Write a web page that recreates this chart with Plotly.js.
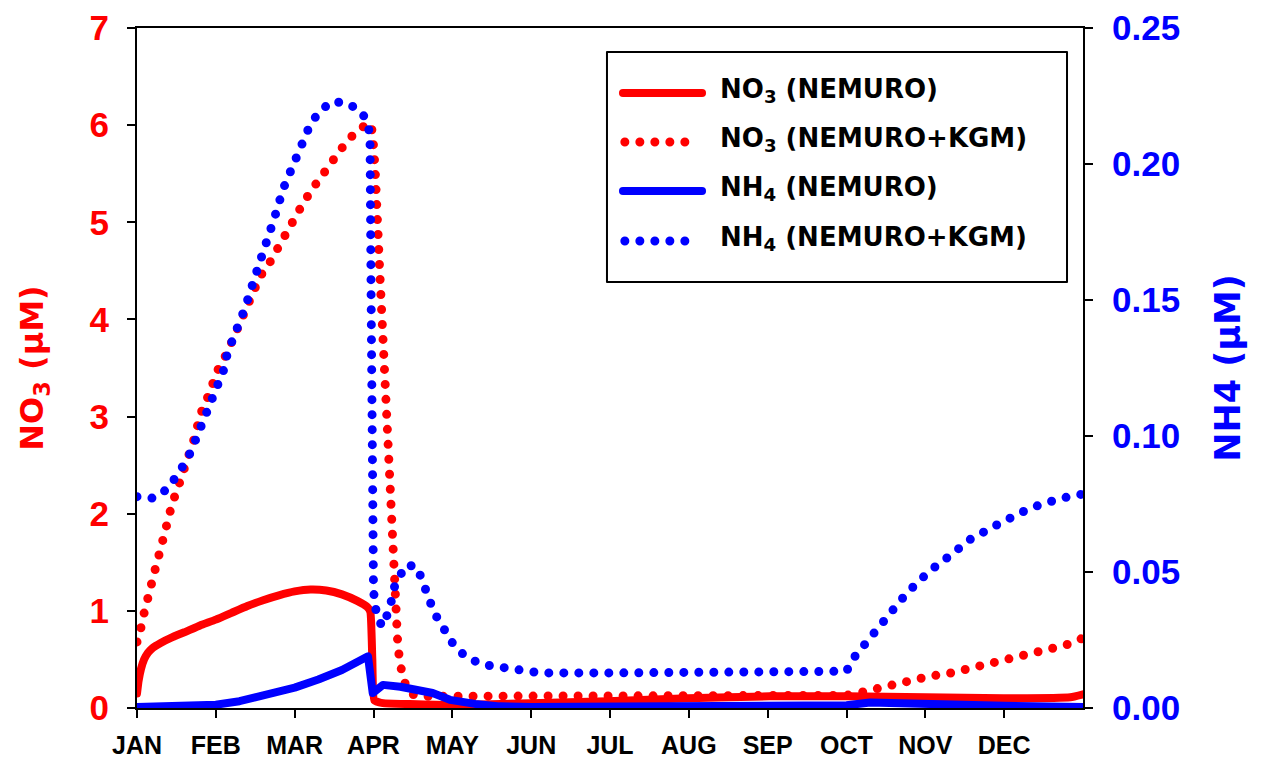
<!DOCTYPE html>
<html>
<head>
<meta charset="utf-8">
<script src="https://cdn.plot.ly/plotly-3.0.1.min.js"></script>
<style>
html, body { margin: 0; padding: 0; background: #fff; }
#chart { width: 1265px; height: 759px; }
.scatterlayer .js-line, .shapelayer path { stroke-linecap: round; stroke-linejoin: round; }
</style>
</head>
<body>
<div id="chart"></div>
<script>
// Month tick labels (x is measured in months since 1 Jan)
var monthLabels = ['JAN','FEB','MAR','APR','MAY','JUN','JUL','AUG','SEP','OCT','NOV','DEC'];
var monthTicks = [0,1,2,3,4,5,6,7,8,9,10,11];

// NO3 (NEMURO) - left axis, uM
var no3NemMonth = [0, 0.02, 0.05, 0.09, 0.14, 0.20, 0.30, 0.45, 0.60, 0.80, 1.0, 1.2, 1.4, 1.6, 1.8, 2.0, 2.2, 2.4, 2.6, 2.8, 2.92, 2.96, 2.985, 3.01, 3.12, 3.46, 3.98, 4.99, 5.97, 6.99, 8.02, 9.0, 10.0, 10.99, 11.84, 12.0];
var no3NemVal   = [0.15, 0.28, 0.40, 0.50, 0.57, 0.62, 0.67, 0.73, 0.78, 0.85, 0.91, 0.98, 1.05, 1.11, 1.16, 1.20, 1.22, 1.21, 1.17, 1.10, 1.04, 0.99, 0.5, 0.08, 0.05, 0.04, 0.03, 0.05, 0.07, 0.10, 0.12, 0.12, 0.11, 0.10, 0.11, 0.14];

// NO3 (NEMURO+KGM) - left axis, uM
var no3KgmMonth = [0, 0.03, 0.06, 0.10, 0.156, 0.20, 0.25, 0.30, 0.346, 0.397, 0.448, 0.516, 0.567, 0.638, 0.707, 0.757, 0.808, 0.892, 0.96, 1.031, 1.138, 1.37, 1.56, 1.68, 1.78, 1.90, 2.00, 2.11, 2.23, 2.36, 2.50, 2.64, 2.81, 2.965, 2.99, 3.02, 3.08, 3.16, 3.23, 3.27, 3.31, 3.37, 3.46, 3.59, 3.99, 4.37, 5.0, 6.0, 7.0, 8.0, 9.0, 9.13, 9.30, 9.50, 9.69, 9.89, 10.07, 10.27, 10.46, 10.65, 10.84, 11.03, 11.22, 11.40, 11.60, 11.79, 12.0];
var no3KgmVal   = [0.68, 0.72, 0.88, 1.03, 1.18, 1.34, 1.49, 1.64, 1.80, 1.95, 2.11, 2.26, 2.42, 2.56, 2.72, 2.88, 3.03, 3.19, 3.34, 3.49, 3.65, 4.11, 4.44, 4.58, 4.73, 4.89, 5.04, 5.20, 5.35, 5.50, 5.65, 5.81, 5.96, 6.02, 5.9, 5.56, 4.48, 3.1, 1.68, 1.08, 0.62, 0.31, 0.15, 0.12, 0.12, 0.13, 0.13, 0.13, 0.12, 0.12, 0.13, 0.15, 0.185, 0.22, 0.25, 0.29, 0.33, 0.35, 0.39, 0.425, 0.45, 0.50, 0.535, 0.58, 0.615, 0.65, 0.72];

// NH4 (NEMURO) - right axis, uM
var nh4NemMonth = [0, 0.5, 1.0, 1.3, 1.6, 2.0, 2.3, 2.6, 2.93, 2.99, 3.12, 3.34, 3.75, 3.97, 4.29, 4.60, 5.0, 6.0, 7.0, 8.0, 9.0, 9.3, 10.0, 10.5, 11.0, 12.0];
var nh4NemVal   = [0.0004, 0.0006, 0.0012, 0.0025, 0.0045, 0.0075, 0.0105, 0.014, 0.019, 0.0055, 0.0085, 0.0078, 0.0055, 0.003, 0.0015, 0.0006, 0.0004, 0.0004, 0.0007, 0.0008, 0.001, 0.002, 0.0018, 0.0012, 0.0008, 0.0004];

// NH4 (NEMURO+KGM) - right axis, uM
var nh4KgmMonth = [0, 0.216, 0.397, 0.537, 0.638, 0.723, 0.80, 0.884, 0.948, 1.031, 1.104, 1.146, 1.23, 1.285, 1.37, 1.497, 1.624, 1.738, 1.856, 2.004, 2.173, 2.287, 2.461, 2.66, 2.85, 2.934, 2.956, 2.97, 2.985, 3.0, 3.04, 3.11, 3.20, 3.27, 3.41, 3.55, 3.63, 3.77, 4.00, 4.16, 4.38, 4.76, 5.11, 6.0, 7.0, 8.0, 9.0, 9.08, 9.22, 9.37, 9.53, 9.70, 9.88, 10.07, 10.31, 10.57, 10.95, 11.33, 11.71, 12.0];
var nh4KgmVal   = [0.0777, 0.0771, 0.0808, 0.0863, 0.0914, 0.0971, 0.1025, 0.108, 0.1136, 0.119, 0.1246, 0.1304, 0.136, 0.1414, 0.147, 0.1586, 0.169, 0.1797, 0.191, 0.2018, 0.2128, 0.2184, 0.2229, 0.2225, 0.2192, 0.2143, 0.2088, 0.15, 0.07, 0.043, 0.034, 0.030, 0.036, 0.045, 0.0526, 0.052, 0.046, 0.035, 0.024, 0.019, 0.016, 0.014, 0.0129, 0.0129, 0.0129, 0.0129, 0.0135, 0.018, 0.023, 0.029, 0.035, 0.040, 0.0456, 0.0507, 0.056, 0.062, 0.068, 0.0735, 0.077, 0.0787];

var seriesNames = ['NO<sub>3</sub> (NEMURO)', 'NO<sub>3</sub> (NEMURO+KGM)', 'NH<sub>4</sub> (NEMURO)', 'NH<sub>4</sub> (NEMURO+KGM)'];

var RED = '#ff0000', BLUE = '#0000ff';
var DOTS = '0px,15px';
var FONT = '"Liberation Sans", Arial, sans-serif';
var WIDE = '"DejaVu Sans", sans-serif';

var traces = [
  {x: no3NemMonth, y: no3NemVal, name: seriesNames[0], type: 'scatter', mode: 'lines', yaxis: 'y',
   line: {color: RED, width: 8, shape: 'spline', smoothing: 0.4}},
  {x: no3KgmMonth, y: no3KgmVal, name: seriesNames[1], type: 'scatter', mode: 'lines', yaxis: 'y',
   line: {color: RED, width: 9, dash: DOTS}},
  {x: nh4NemMonth, y: nh4NemVal, name: seriesNames[2], type: 'scatter', mode: 'lines', yaxis: 'y2',
   line: {color: BLUE, width: 8}},
  {x: nh4KgmMonth, y: nh4KgmVal, name: seriesNames[3], type: 'scatter', mode: 'lines', yaxis: 'y2',
   line: {color: BLUE, width: 9, dash: DOTS}}
];

// manual legend (box, line samples, labels) in paper coordinates
var legX0 = 0.4968, legX1 = 0.9831, legY0 = 0.6265, legY1 = 0.9647;
var rowY = [0.9044, 0.8324, 0.7603, 0.6868];
var sampleX0 = 0.5137, sampleX1 = 0.5973, dotX1 = 0.5830;
var textX = 0.6142;
var legColors = [RED, RED, BLUE, BLUE];
var legDash = ['solid', DOTS, 'solid', DOTS];

var shapes = [{type: 'rect', xref: 'paper', yref: 'paper', x0: legX0, x1: legX1, y0: legY0, y1: legY1,
               line: {color: '#000', width: 2}, fillcolor: '#fff', layer: 'above'}];
var annotations = [];
for (var i = 0; i < 4; i++) {
  var solid = legDash[i] === 'solid';
  shapes.push({type: 'line', xref: 'paper', yref: 'paper',
               x0: sampleX0 + (solid ? 0 : 0.002), x1: solid ? sampleX1 : dotX1, y0: rowY[i], y1: rowY[i],
               line: {color: legColors[i], width: solid ? 8 : 9, dash: legDash[i]}, layer: 'above'});
  annotations.push({xref: 'paper', yref: 'paper', x: textX, y: rowY[i] + 0.004, xanchor: 'left', yanchor: 'middle',
                    text: seriesNames[i], showarrow: false,
                    font: {family: WIDE, size: 26, color: '#000', weight: 'bold'}});
}

var layout = {
  width: 1265, height: 759,
  margin: {l: 137, r: 182, t: 28, b: 51},
  paper_bgcolor: '#fff', plot_bgcolor: '#fff',
  showlegend: false,
  font: {family: FONT},
  xaxis: {
    range: [0, 12], tickmode: 'array', tickvals: monthTicks, ticktext: monthLabels,
    showgrid: false, zeroline: false, showline: true, linecolor: '#000', linewidth: 2, mirror: true,
    ticks: 'outside', ticklen: 8, tickwidth: 2, tickcolor: '#000',
    tickfont: {family: FONT, size: 25, color: '#000', weight: 'bold'}, ticklabelstandoff: 6
  },
  yaxis: {
    range: [0, 7], dtick: 1, tick0: 0,
    showgrid: false, zeroline: false, showline: true, linecolor: '#000', linewidth: 2,
    ticks: 'outside', ticklen: 8, tickwidth: 2, tickcolor: '#000',
    tickfont: {family: FONT, size: 35, color: RED, weight: 'bold'}, ticklabelstandoff: 11,
    title: {text: 'NO<sub>3</sub> (μM)', font: {family: WIDE, size: 32, color: RED, weight: 'bold'}, standoff: 36}
  },
  yaxis2: {
    overlaying: 'y', side: 'right', anchor: 'x',
    range: [0, 0.25], dtick: 0.05, tick0: 0, tickformat: '.2f',
    showgrid: false, zeroline: false, showline: true, linecolor: '#000', linewidth: 2,
    ticks: 'outside', ticklen: 8, tickwidth: 2, tickcolor: '#000',
    tickfont: {family: FONT, size: 35, color: BLUE, weight: 'bold'}, ticklabelstandoff: 12,
    title: {text: 'NH4 (μM)', font: {family: WIDE, size: 35, color: BLUE, weight: 'bold'}, standoff: 36}
  },
  shapes: shapes,
  annotations: annotations
};

Plotly.newPlot('chart', traces, layout, {displayModeBar: false, staticPlot: true});
</script>
</body>
</html>
